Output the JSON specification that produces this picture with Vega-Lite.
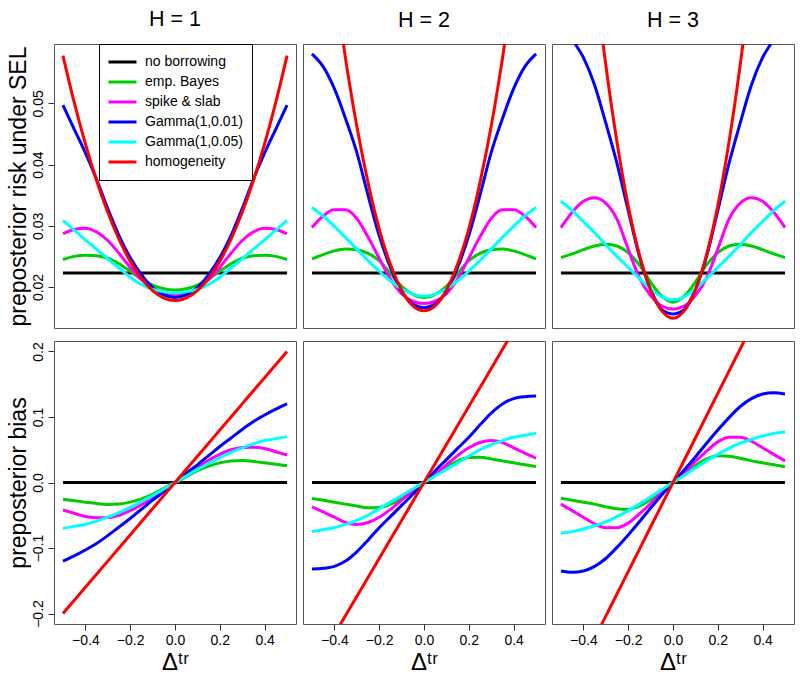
{
  "$schema": "https://vega.github.io/schema/vega-lite/v6.json",
  "background": "white",
  "padding": {"left": 6, "top": 8, "right": 5, "bottom": 0},
  "config": {
    "font": "Liberation Sans",
    "view": {"stroke": "#555555", "strokeWidth": 1},
    "axis": {"domain": false, "grid": false, "ticks": true, "tickColor": "#333333", "tickSize": 6, "labelFontSize": 14, "labelColor": "#000000", "labelFont": "Liberation Sans", "titleFont": "Liberation Sans", "titleFontWeight": "normal", "titleColor": "#000000"},
    "title": {"fontSize": 21.5, "fontWeight": "normal", "font": "Liberation Sans", "color": "#000000", "baseline": "alphabetic", "offset": 13}
  },
  "datasets": {
    "risk": [
      {"H":1,"x":-0.5,"nb":0.0223,"eb":0.0245,"ss":0.0287,"g1":0.0497,"g5":0.0309,"hm":0.0578},
      {"H":1,"x":-0.45,"nb":0.0223,"eb":0.0250,"ss":0.0294,"g1":0.0458,"g5":0.0293,"hm":0.0502},
      {"H":1,"x":-0.4,"nb":0.0223,"eb":0.0252,"ss":0.0296,"g1":0.0419,"g5":0.0277,"hm":0.0434},
      {"H":1,"x":-0.35,"nb":0.0223,"eb":0.0251,"ss":0.0290,"g1":0.0376,"g5":0.0262,"hm":0.0374},
      {"H":1,"x":-0.3,"nb":0.0223,"eb":0.0247,"ss":0.0276,"g1":0.0328,"g5":0.0246,"hm":0.0322},
      {"H":1,"x":-0.25,"nb":0.0223,"eb":0.0238,"ss":0.0255,"g1":0.0284,"g5":0.0231,"hm":0.0278},
      {"H":1,"x":-0.2,"nb":0.0223,"eb":0.0226,"ss":0.0232,"g1":0.0248,"g5":0.0216,"hm":0.0242},
      {"H":1,"x":-0.15,"nb":0.0223,"eb":0.0213,"ss":0.0212,"g1":0.0220,"g5":0.0204,"hm":0.0214},
      {"H":1,"x":-0.1,"nb":0.0223,"eb":0.0203,"ss":0.0198,"g1":0.0199,"g5":0.0196,"hm":0.0194},
      {"H":1,"x":-0.05,"nb":0.0223,"eb":0.0197,"ss":0.0190,"g1":0.0187,"g5":0.0192,"hm":0.0182},
      {"H":1,"x":0,"nb":0.0223,"eb":0.0195,"ss":0.0187,"g1":0.0183,"g5":0.0190,"hm":0.0178},
      {"H":1,"x":0.05,"nb":0.0223,"eb":0.0197,"ss":0.0190,"g1":0.0187,"g5":0.0192,"hm":0.0182},
      {"H":1,"x":0.1,"nb":0.0223,"eb":0.0203,"ss":0.0198,"g1":0.0199,"g5":0.0196,"hm":0.0194},
      {"H":1,"x":0.15,"nb":0.0223,"eb":0.0213,"ss":0.0212,"g1":0.0220,"g5":0.0204,"hm":0.0214},
      {"H":1,"x":0.2,"nb":0.0223,"eb":0.0226,"ss":0.0232,"g1":0.0248,"g5":0.0216,"hm":0.0242},
      {"H":1,"x":0.25,"nb":0.0223,"eb":0.0238,"ss":0.0255,"g1":0.0284,"g5":0.0231,"hm":0.0278},
      {"H":1,"x":0.3,"nb":0.0223,"eb":0.0247,"ss":0.0276,"g1":0.0328,"g5":0.0246,"hm":0.0322},
      {"H":1,"x":0.35,"nb":0.0223,"eb":0.0251,"ss":0.0290,"g1":0.0376,"g5":0.0262,"hm":0.0374},
      {"H":1,"x":0.4,"nb":0.0223,"eb":0.0252,"ss":0.0296,"g1":0.0419,"g5":0.0277,"hm":0.0434},
      {"H":1,"x":0.45,"nb":0.0223,"eb":0.0250,"ss":0.0294,"g1":0.0458,"g5":0.0293,"hm":0.0502},
      {"H":1,"x":0.5,"nb":0.0223,"eb":0.0245,"ss":0.0287,"g1":0.0497,"g5":0.0309,"hm":0.0578},
      {"H":2,"x":-0.5,"nb":0.0223,"eb":0.0246,"ss":0.0297,"g1":0.0581,"g5":0.0330,"hm":0.1001},
      {"H":2,"x":-0.45,"nb":0.0223,"eb":0.0253,"ss":0.0316,"g1":0.0560,"g5":0.0316,"hm":0.0841},
      {"H":2,"x":-0.4,"nb":0.0223,"eb":0.0259,"ss":0.0326,"g1":0.0524,"g5":0.0299,"hm":0.0699},
      {"H":2,"x":-0.35,"nb":0.0223,"eb":0.0262,"ss":0.0326,"g1":0.0475,"g5":0.0281,"hm":0.0573},
      {"H":2,"x":-0.3,"nb":0.0223,"eb":0.0261,"ss":0.0312,"g1":0.0420,"g5":0.0262,"hm":0.0463},
      {"H":2,"x":-0.25,"nb":0.0223,"eb":0.0255,"ss":0.0282,"g1":0.0350,"g5":0.0243,"hm":0.0371},
      {"H":2,"x":-0.2,"nb":0.0223,"eb":0.0243,"ss":0.0247,"g1":0.0284,"g5":0.0226,"hm":0.0295},
      {"H":2,"x":-0.15,"nb":0.0223,"eb":0.0222,"ss":0.0213,"g1":0.0232,"g5":0.0210,"hm":0.0237},
      {"H":2,"x":-0.1,"nb":0.0223,"eb":0.0201,"ss":0.0189,"g1":0.0193,"g5":0.0197,"hm":0.0195},
      {"H":2,"x":-0.05,"nb":0.0223,"eb":0.0188,"ss":0.0177,"g1":0.0172,"g5":0.0188,"hm":0.0169},
      {"H":2,"x":0,"nb":0.0223,"eb":0.0183,"ss":0.0173,"g1":0.0166,"g5":0.0185,"hm":0.0161},
      {"H":2,"x":0.05,"nb":0.0223,"eb":0.0188,"ss":0.0177,"g1":0.0172,"g5":0.0188,"hm":0.0169},
      {"H":2,"x":0.1,"nb":0.0223,"eb":0.0201,"ss":0.0189,"g1":0.0193,"g5":0.0197,"hm":0.0195},
      {"H":2,"x":0.15,"nb":0.0223,"eb":0.0222,"ss":0.0213,"g1":0.0232,"g5":0.0210,"hm":0.0237},
      {"H":2,"x":0.2,"nb":0.0223,"eb":0.0243,"ss":0.0247,"g1":0.0284,"g5":0.0226,"hm":0.0295},
      {"H":2,"x":0.25,"nb":0.0223,"eb":0.0255,"ss":0.0282,"g1":0.0350,"g5":0.0243,"hm":0.0371},
      {"H":2,"x":0.3,"nb":0.0223,"eb":0.0261,"ss":0.0312,"g1":0.0420,"g5":0.0262,"hm":0.0463},
      {"H":2,"x":0.35,"nb":0.0223,"eb":0.0262,"ss":0.0326,"g1":0.0475,"g5":0.0281,"hm":0.0573},
      {"H":2,"x":0.4,"nb":0.0223,"eb":0.0259,"ss":0.0326,"g1":0.0524,"g5":0.0299,"hm":0.0699},
      {"H":2,"x":0.45,"nb":0.0223,"eb":0.0253,"ss":0.0316,"g1":0.0560,"g5":0.0316,"hm":0.0841},
      {"H":2,"x":0.5,"nb":0.0223,"eb":0.0246,"ss":0.0297,"g1":0.0581,"g5":0.0330,"hm":0.1001},
      {"H":3,"x":-0.5,"nb":0.0223,"eb":0.0248,"ss":0.0297,"g1":0.0640,"g5":0.0340,"hm":0.1299},
      {"H":3,"x":-0.45,"nb":0.0223,"eb":0.0254,"ss":0.0322,"g1":0.0605,"g5":0.0325,"hm":0.1080},
      {"H":3,"x":-0.4,"nb":0.0223,"eb":0.0261,"ss":0.0340,"g1":0.0575,"g5":0.0307,"hm":0.0885},
      {"H":3,"x":-0.35,"nb":0.0223,"eb":0.0267,"ss":0.0346,"g1":0.0530,"g5":0.0289,"hm":0.0713},
      {"H":3,"x":-0.3,"nb":0.0223,"eb":0.0270,"ss":0.0337,"g1":0.0468,"g5":0.0269,"hm":0.0563},
      {"H":3,"x":-0.25,"nb":0.0223,"eb":0.0267,"ss":0.0311,"g1":0.0402,"g5":0.0250,"hm":0.0437},
      {"H":3,"x":-0.2,"nb":0.0223,"eb":0.0256,"ss":0.0262,"g1":0.0325,"g5":0.0232,"hm":0.0333},
      {"H":3,"x":-0.15,"nb":0.0223,"eb":0.0236,"ss":0.0215,"g1":0.0250,"g5":0.0214,"hm":0.0253},
      {"H":3,"x":-0.1,"nb":0.0223,"eb":0.0208,"ss":0.0186,"g1":0.0196,"g5":0.0197,"hm":0.0195},
      {"H":3,"x":-0.05,"nb":0.0223,"eb":0.0185,"ss":0.0169,"g1":0.0163,"g5":0.0184,"hm":0.0161},
      {"H":3,"x":0,"nb":0.0223,"eb":0.0175,"ss":0.0164,"g1":0.0156,"g5":0.0179,"hm":0.0149},
      {"H":3,"x":0.05,"nb":0.0223,"eb":0.0185,"ss":0.0169,"g1":0.0163,"g5":0.0184,"hm":0.0161},
      {"H":3,"x":0.1,"nb":0.0223,"eb":0.0208,"ss":0.0186,"g1":0.0196,"g5":0.0197,"hm":0.0195},
      {"H":3,"x":0.15,"nb":0.0223,"eb":0.0236,"ss":0.0215,"g1":0.0250,"g5":0.0214,"hm":0.0253},
      {"H":3,"x":0.2,"nb":0.0223,"eb":0.0256,"ss":0.0262,"g1":0.0325,"g5":0.0232,"hm":0.0333},
      {"H":3,"x":0.25,"nb":0.0223,"eb":0.0267,"ss":0.0311,"g1":0.0402,"g5":0.0250,"hm":0.0437},
      {"H":3,"x":0.3,"nb":0.0223,"eb":0.0270,"ss":0.0337,"g1":0.0468,"g5":0.0269,"hm":0.0563},
      {"H":3,"x":0.35,"nb":0.0223,"eb":0.0267,"ss":0.0346,"g1":0.0530,"g5":0.0289,"hm":0.0713},
      {"H":3,"x":0.4,"nb":0.0223,"eb":0.0261,"ss":0.0340,"g1":0.0575,"g5":0.0307,"hm":0.0885},
      {"H":3,"x":0.45,"nb":0.0223,"eb":0.0254,"ss":0.0322,"g1":0.0605,"g5":0.0325,"hm":0.1080},
      {"H":3,"x":0.5,"nb":0.0223,"eb":0.0248,"ss":0.0297,"g1":0.0640,"g5":0.0340,"hm":0.1299}
    ],
    "bias": [
      {"H":1,"x":-0.5,"nb":0,"eb":-0.0254,"ss":-0.042,"g1":-0.120,"g5":-0.070,"hm":-0.20},
      {"H":1,"x":-0.45,"nb":0,"eb":-0.0277,"ss":-0.047,"g1":-0.112,"g5":-0.067,"hm":-0.18},
      {"H":1,"x":-0.4,"nb":0,"eb":-0.0300,"ss":-0.052,"g1":-0.103,"g5":-0.064,"hm":-0.16},
      {"H":1,"x":-0.35,"nb":0,"eb":-0.0322,"ss":-0.0538,"g1":-0.093,"g5":-0.059,"hm":-0.14},
      {"H":1,"x":-0.3,"nb":0,"eb":-0.0334,"ss":-0.0535,"g1":-0.081,"g5":-0.053,"hm":-0.12},
      {"H":1,"x":-0.25,"nb":0,"eb":-0.0328,"ss":-0.050,"g1":-0.068,"g5":-0.046,"hm":-0.10},
      {"H":1,"x":-0.2,"nb":0,"eb":-0.030,"ss":-0.043,"g1":-0.055,"g5":-0.038,"hm":-0.08},
      {"H":1,"x":-0.15,"nb":0,"eb":-0.025,"ss":-0.034,"g1":-0.041,"g5":-0.029,"hm":-0.06},
      {"H":1,"x":-0.1,"nb":0,"eb":-0.018,"ss":-0.023,"g1":-0.027,"g5":-0.020,"hm":-0.04},
      {"H":1,"x":-0.05,"nb":0,"eb":-0.009,"ss":-0.011,"g1":-0.014,"g5":-0.010,"hm":-0.02},
      {"H":1,"x":0,"nb":0,"eb":0,"ss":0,"g1":0,"g5":0,"hm":0},
      {"H":1,"x":0.05,"nb":0,"eb":0.009,"ss":0.011,"g1":0.014,"g5":0.010,"hm":0.02},
      {"H":1,"x":0.1,"nb":0,"eb":0.018,"ss":0.023,"g1":0.027,"g5":0.020,"hm":0.04},
      {"H":1,"x":0.15,"nb":0,"eb":0.025,"ss":0.034,"g1":0.041,"g5":0.029,"hm":0.06},
      {"H":1,"x":0.2,"nb":0,"eb":0.030,"ss":0.043,"g1":0.055,"g5":0.038,"hm":0.08},
      {"H":1,"x":0.25,"nb":0,"eb":0.0328,"ss":0.050,"g1":0.068,"g5":0.046,"hm":0.10},
      {"H":1,"x":0.3,"nb":0,"eb":0.0334,"ss":0.0535,"g1":0.081,"g5":0.053,"hm":0.12},
      {"H":1,"x":0.35,"nb":0,"eb":0.0322,"ss":0.0538,"g1":0.093,"g5":0.059,"hm":0.14},
      {"H":1,"x":0.4,"nb":0,"eb":0.0300,"ss":0.052,"g1":0.103,"g5":0.064,"hm":0.16},
      {"H":1,"x":0.45,"nb":0,"eb":0.0277,"ss":0.047,"g1":0.112,"g5":0.067,"hm":0.18},
      {"H":1,"x":0.5,"nb":0,"eb":0.0254,"ss":0.042,"g1":0.120,"g5":0.070,"hm":0.20},
      {"H":2,"x":-0.5,"nb":0,"eb":-0.0245,"ss":-0.037,"g1":-0.132,"g5":-0.075,"hm":-0.290},
      {"H":2,"x":-0.45,"nb":0,"eb":-0.027,"ss":-0.045,"g1":-0.131,"g5":-0.072,"hm":-0.261},
      {"H":2,"x":-0.4,"nb":0,"eb":-0.030,"ss":-0.053,"g1":-0.128,"g5":-0.069,"hm":-0.232},
      {"H":2,"x":-0.35,"nb":0,"eb":-0.033,"ss":-0.061,"g1":-0.120,"g5":-0.064,"hm":-0.203},
      {"H":2,"x":-0.3,"nb":0,"eb":-0.036,"ss":-0.064,"g1":-0.106,"g5":-0.058,"hm":-0.174},
      {"H":2,"x":-0.25,"nb":0,"eb":-0.0385,"ss":-0.061,"g1":-0.088,"g5":-0.050,"hm":-0.145},
      {"H":2,"x":-0.2,"nb":0,"eb":-0.038,"ss":-0.053,"g1":-0.069,"g5":-0.040,"hm":-0.116},
      {"H":2,"x":-0.15,"nb":0,"eb":-0.033,"ss":-0.041,"g1":-0.052,"g5":-0.030,"hm":-0.087},
      {"H":2,"x":-0.1,"nb":0,"eb":-0.023,"ss":-0.027,"g1":-0.035,"g5":-0.020,"hm":-0.058},
      {"H":2,"x":-0.05,"nb":0,"eb":-0.011,"ss":-0.013,"g1":-0.018,"g5":-0.010,"hm":-0.029},
      {"H":2,"x":0,"nb":0,"eb":0,"ss":0,"g1":0,"g5":0,"hm":0},
      {"H":2,"x":0.05,"nb":0,"eb":0.011,"ss":0.013,"g1":0.018,"g5":0.010,"hm":0.029},
      {"H":2,"x":0.1,"nb":0,"eb":0.023,"ss":0.027,"g1":0.035,"g5":0.020,"hm":0.058},
      {"H":2,"x":0.15,"nb":0,"eb":0.033,"ss":0.041,"g1":0.052,"g5":0.030,"hm":0.087},
      {"H":2,"x":0.2,"nb":0,"eb":0.038,"ss":0.053,"g1":0.069,"g5":0.040,"hm":0.116},
      {"H":2,"x":0.25,"nb":0,"eb":0.0385,"ss":0.061,"g1":0.088,"g5":0.050,"hm":0.145},
      {"H":2,"x":0.3,"nb":0,"eb":0.036,"ss":0.064,"g1":0.106,"g5":0.058,"hm":0.174},
      {"H":2,"x":0.35,"nb":0,"eb":0.033,"ss":0.061,"g1":0.120,"g5":0.064,"hm":0.203},
      {"H":2,"x":0.4,"nb":0,"eb":0.030,"ss":0.053,"g1":0.128,"g5":0.069,"hm":0.232},
      {"H":2,"x":0.45,"nb":0,"eb":0.027,"ss":0.045,"g1":0.131,"g5":0.072,"hm":0.261},
      {"H":2,"x":0.5,"nb":0,"eb":0.0245,"ss":0.037,"g1":0.132,"g5":0.075,"hm":0.290},
      {"H":3,"x":-0.5,"nb":0,"eb":-0.024,"ss":-0.033,"g1":-0.135,"g5":-0.077,"hm":-0.340},
      {"H":3,"x":-0.45,"nb":0,"eb":-0.027,"ss":-0.043,"g1":-0.137,"g5":-0.075,"hm":-0.306},
      {"H":3,"x":-0.4,"nb":0,"eb":-0.030,"ss":-0.053,"g1":-0.135,"g5":-0.071,"hm":-0.272},
      {"H":3,"x":-0.35,"nb":0,"eb":-0.033,"ss":-0.063,"g1":-0.128,"g5":-0.066,"hm":-0.238},
      {"H":3,"x":-0.3,"nb":0,"eb":-0.037,"ss":-0.069,"g1":-0.116,"g5":-0.060,"hm":-0.204},
      {"H":3,"x":-0.25,"nb":0,"eb":-0.040,"ss":-0.069,"g1":-0.099,"g5":-0.052,"hm":-0.170},
      {"H":3,"x":-0.2,"nb":0,"eb":-0.041,"ss":-0.062,"g1":-0.080,"g5":-0.043,"hm":-0.136},
      {"H":3,"x":-0.15,"nb":0,"eb":-0.036,"ss":-0.048,"g1":-0.060,"g5":-0.033,"hm":-0.102},
      {"H":3,"x":-0.1,"nb":0,"eb":-0.026,"ss":-0.032,"g1":-0.039,"g5":-0.022,"hm":-0.068},
      {"H":3,"x":-0.05,"nb":0,"eb":-0.012,"ss":-0.015,"g1":-0.019,"g5":-0.011,"hm":-0.034},
      {"H":3,"x":0,"nb":0,"eb":0,"ss":0,"g1":0,"g5":0,"hm":0},
      {"H":3,"x":0.05,"nb":0,"eb":0.012,"ss":0.015,"g1":0.019,"g5":0.011,"hm":0.034},
      {"H":3,"x":0.1,"nb":0,"eb":0.026,"ss":0.032,"g1":0.039,"g5":0.022,"hm":0.068},
      {"H":3,"x":0.15,"nb":0,"eb":0.036,"ss":0.048,"g1":0.060,"g5":0.033,"hm":0.102},
      {"H":3,"x":0.2,"nb":0,"eb":0.041,"ss":0.062,"g1":0.080,"g5":0.043,"hm":0.136},
      {"H":3,"x":0.25,"nb":0,"eb":0.040,"ss":0.069,"g1":0.099,"g5":0.052,"hm":0.170},
      {"H":3,"x":0.3,"nb":0,"eb":0.037,"ss":0.069,"g1":0.116,"g5":0.060,"hm":0.204},
      {"H":3,"x":0.35,"nb":0,"eb":0.033,"ss":0.063,"g1":0.128,"g5":0.066,"hm":0.238},
      {"H":3,"x":0.4,"nb":0,"eb":0.030,"ss":0.053,"g1":0.135,"g5":0.071,"hm":0.272},
      {"H":3,"x":0.45,"nb":0,"eb":0.027,"ss":0.043,"g1":0.137,"g5":0.075,"hm":0.306},
      {"H":3,"x":0.5,"nb":0,"eb":0.024,"ss":0.033,"g1":0.135,"g5":0.077,"hm":0.340}
    ]
  },
  "columns": 3,
  "spacing": {"row": 11, "column": 5},
  "resolve": {"scale": {"x": "independent", "y": "independent", "color": "independent"}, "axis": {"x": "independent", "y": "independent"}, "legend": {"color": "independent"}},
  "concat": [
    {
      "width": 242, "height": 284,
      "title": "H = 1",
      "data": {"name": "risk"},
      "transform": [{"filter": "datum.H == 1"}, {"fold": ["nb", "eb", "ss", "g1", "g5", "hm"], "as": ["s", "y"]}],
      "mark": {"type": "line", "clip": true, "strokeWidth": 3, "interpolate": "monotone"},
      "encoding": {
        "x": {"field": "x", "type": "quantitative", "scale": {"domain": [-0.54, 0.54], "nice": false, "zero": false}, "axis": null},
        "y": {"field": "y", "type": "quantitative", "scale": {"domain": [0.0133, 0.0597], "nice": false, "zero": false}, "axis": {"values": [0.02, 0.03, 0.04, 0.05], "format": ".2f", "title": "preposterior risk under SEL", "titleFontSize": 23, "labelAngle": -90, "labelAlign": "center", "labelBaseline": "bottom", "labelPadding": 3, "titlePadding": 1}},
        "color": {"field": "s", "type": "nominal", "scale": {"domain": ["nb", "eb", "ss", "g1", "g5", "hm"], "range": ["#000000", "#00CD00", "#FF00FF", "#0000FF", "#00FFFF", "#FF0000"]},
          "legend": {"orient": "none", "legendX": 45, "legendY": 0, "title": null, "labelExpr": "datum.value == 'nb' ? 'no borrowing' : datum.value == 'eb' ? 'emp. Bayes' : datum.value == 'ss' ? 'spike & slab' : datum.value == 'g1' ? 'Gamma(1,0.01)' : datum.value == 'g5' ? 'Gamma(1,0.05)' : 'homogeneity'", "labelFontSize": 14, "labelColor": "#000000", "labelFont": "Liberation Sans", "symbolType": "stroke", "symbolSize": 784, "symbolStrokeWidth": 3, "clipHeight": 20, "rowPadding": -0.6, "padding": 8, "labelOffset": 7, "symbolOffset": 0, "strokeColor": "#000000", "fillColor": "#FFFFFF"}}
      }
    },
    {
      "width": 242, "height": 284,
      "title": "H = 2",
      "data": {"name": "risk"},
      "transform": [{"filter": "datum.H == 2"}, {"fold": ["nb", "eb", "ss", "g1", "g5", "hm"], "as": ["s", "y"]}],
      "mark": {"type": "line", "clip": true, "strokeWidth": 3, "interpolate": "monotone"},
      "encoding": {
        "x": {"field": "x", "type": "quantitative", "scale": {"domain": [-0.54, 0.54], "nice": false, "zero": false}, "axis": null},
        "y": {"field": "y", "type": "quantitative", "scale": {"domain": [0.0133, 0.0597], "nice": false, "zero": false}, "axis": null},
        "color": {"field": "s", "type": "nominal", "scale": {"domain": ["nb", "eb", "ss", "g1", "g5", "hm"], "range": ["#000000", "#00CD00", "#FF00FF", "#0000FF", "#00FFFF", "#FF0000"]}, "legend": null}
      }
    },
    {
      "width": 242, "height": 284,
      "title": "H = 3",
      "data": {"name": "risk"},
      "transform": [{"filter": "datum.H == 3"}, {"fold": ["nb", "eb", "ss", "g1", "g5", "hm"], "as": ["s", "y"]}],
      "mark": {"type": "line", "clip": true, "strokeWidth": 3, "interpolate": "monotone"},
      "encoding": {
        "x": {"field": "x", "type": "quantitative", "scale": {"domain": [-0.54, 0.54], "nice": false, "zero": false}, "axis": null},
        "y": {"field": "y", "type": "quantitative", "scale": {"domain": [0.0133, 0.0597], "nice": false, "zero": false}, "axis": null},
        "color": {"field": "s", "type": "nominal", "scale": {"domain": ["nb", "eb", "ss", "g1", "g5", "hm"], "range": ["#000000", "#00CD00", "#FF00FF", "#0000FF", "#00FFFF", "#FF0000"]}, "legend": null}
      }
    },
    {
      "width": 242, "height": 283,
      "data": {"name": "bias"},
      "transform": [{"filter": "datum.H == 1"}, {"fold": ["nb", "eb", "ss", "g1", "g5", "hm"], "as": ["s", "y"]}],
      "mark": {"type": "line", "clip": true, "strokeWidth": 3, "interpolate": "monotone"},
      "encoding": {
        "x": {"field": "x", "type": "quantitative", "scale": {"domain": [-0.54, 0.54], "nice": false, "zero": false}, "axis": {"values": [-0.4, -0.2, 0, 0.2, 0.4], "format": ".1f", "title": "Δᵗʳ", "titleFontSize": 24, "labelPadding": 3, "titlePadding": 3}},
        "y": {"field": "y", "type": "quantitative", "scale": {"domain": [-0.216, 0.216], "nice": false, "zero": false}, "axis": {"values": [-0.2, -0.1, 0, 0.1, 0.2], "format": ".1f", "title": "preposterior bias", "titleFontSize": 23, "labelAngle": -90, "labelAlign": "center", "labelBaseline": "bottom", "labelPadding": 3, "titlePadding": 1}},
        "color": {"field": "s", "type": "nominal", "scale": {"domain": ["nb", "eb", "ss", "g1", "g5", "hm"], "range": ["#000000", "#00CD00", "#FF00FF", "#0000FF", "#00FFFF", "#FF0000"]}, "legend": null}
      }
    },
    {
      "width": 242, "height": 283,
      "data": {"name": "bias"},
      "transform": [{"filter": "datum.H == 2"}, {"fold": ["nb", "eb", "ss", "g1", "g5", "hm"], "as": ["s", "y"]}],
      "mark": {"type": "line", "clip": true, "strokeWidth": 3, "interpolate": "monotone"},
      "encoding": {
        "x": {"field": "x", "type": "quantitative", "scale": {"domain": [-0.54, 0.54], "nice": false, "zero": false}, "axis": {"values": [-0.4, -0.2, 0, 0.2, 0.4], "format": ".1f", "title": "Δᵗʳ", "titleFontSize": 24, "labelPadding": 3, "titlePadding": 3}},
        "y": {"field": "y", "type": "quantitative", "scale": {"domain": [-0.216, 0.216], "nice": false, "zero": false}, "axis": null},
        "color": {"field": "s", "type": "nominal", "scale": {"domain": ["nb", "eb", "ss", "g1", "g5", "hm"], "range": ["#000000", "#00CD00", "#FF00FF", "#0000FF", "#00FFFF", "#FF0000"]}, "legend": null}
      }
    },
    {
      "width": 242, "height": 283,
      "data": {"name": "bias"},
      "transform": [{"filter": "datum.H == 3"}, {"fold": ["nb", "eb", "ss", "g1", "g5", "hm"], "as": ["s", "y"]}],
      "mark": {"type": "line", "clip": true, "strokeWidth": 3, "interpolate": "monotone"},
      "encoding": {
        "x": {"field": "x", "type": "quantitative", "scale": {"domain": [-0.54, 0.54], "nice": false, "zero": false}, "axis": {"values": [-0.4, -0.2, 0, 0.2, 0.4], "format": ".1f", "title": "Δᵗʳ", "titleFontSize": 24, "labelPadding": 3, "titlePadding": 3}},
        "y": {"field": "y", "type": "quantitative", "scale": {"domain": [-0.216, 0.216], "nice": false, "zero": false}, "axis": null},
        "color": {"field": "s", "type": "nominal", "scale": {"domain": ["nb", "eb", "ss", "g1", "g5", "hm"], "range": ["#000000", "#00CD00", "#FF00FF", "#0000FF", "#00FFFF", "#FF0000"]}, "legend": null}
      }
    }
  ]
}
